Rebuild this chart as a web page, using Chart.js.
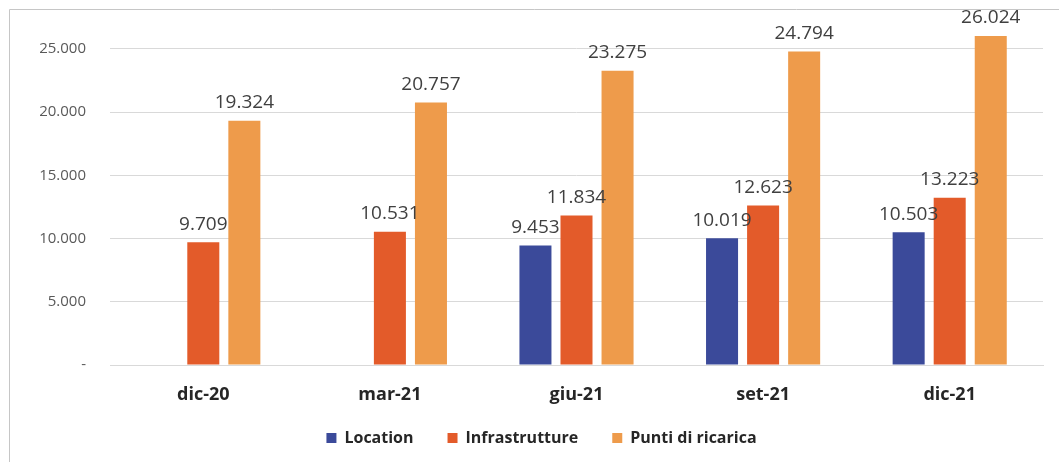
<!DOCTYPE html>
<html>
<head>
<meta charset="utf-8">
<script src="https://cdn.jsdelivr.net/npm/chart.js@4/dist/chart.umd.min.js"></script>
<style>
  html, body { margin: 0; padding: 0; background: #ffffff; }
  #wrap { position: relative; width: 1059px; height: 462px; }
</style>
</head>
<body>
<div id="wrap"><canvas id="chart" width="1059" height="462"></canvas></div>
<script>
// Quarterly figures for the charging network
const categories = ['dic-20', 'mar-21', 'giu-21', 'set-21', 'dic-21'];
const location_ = [null, null, 9453, 10019, 10503];
const infrastrutture = [9709, 10531, 11834, 12623, 13223];
const puntiRicarica = [19324, 20757, 23275, 24794, 26024];
const seriesNames = ['Location', 'Infrastrutture', 'Punti di ricarica'];
const yTickValues = [0, 5000, 10000, 15000, 20000, 25000];
const yTickLabels = ['-', '5.000', '10.000', '15.000', '20.000', '25.000'];

const FONT = '"Open Sans", "Noto Sans", sans-serif';

function fmt(v) {
  return String(v).replace(/\B(?=(\d{3})+(?!\d))/g, '.');
}

// Value labels above each bar
const valueLabels = {
  id: 'valueLabels',
  afterDatasetsDraw(chart) {
    const ctx = chart.ctx;
    ctx.save();
    ctx.font = '19px ' + FONT;
    ctx.fillStyle = '#404040';
    ctx.textAlign = 'center';
    ctx.textBaseline = 'middle';
    chart.data.datasets.forEach((ds, i) => {
      const meta = chart.getDatasetMeta(i);
      meta.data.forEach((bar, j) => {
        const v = ds.data[j];
        if (v === null || v === undefined) return;
        ctx.fillText(fmt(v), bar.x, bar.y - 18);
      });
    });
    ctx.restore();
  }
};

// Thin frame along the top and left edges
const frame = {
  id: 'frame',
  afterDraw(chart) {
    const ctx = chart.ctx;
    ctx.save();
    ctx.strokeStyle = '#c6c6c6';
    ctx.lineWidth = 1;
    ctx.beginPath();
    ctx.moveTo(9.5, chart.height);
    ctx.lineTo(9.5, 9.5);
    ctx.lineTo(chart.width, 9.5);
    ctx.stroke();
    ctx.restore();
  }
};

new Chart(document.getElementById('chart'), {
  type: 'bar',
  data: {
    labels: categories,
    datasets: [
      { label: seriesNames[0], data: location_, backgroundColor: '#3B4A9A' },
      { label: seriesNames[1], data: infrastrutture, backgroundColor: '#E35B2A' },
      { label: seriesNames[2], data: puntiRicarica, backgroundColor: '#EE9B4B' }
    ]
  },
  options: {
    responsive: false,
    animation: false,
    datasets: { bar: { categoryPercentage: 0.66, barPercentage: 0.78 } },
    layout: { padding: { top: 0, left: 40, right: 16, bottom: 6 } },
    plugins: {
      tooltip: { enabled: false },
      legend: {
        position: 'bottom',
        labels: {
          font: { family: FONT, size: 16, weight: 'bold' },
          color: '#262626',
          boxWidth: 10,
          boxHeight: 10,
          padding: 34
        }
      }
    },
    scales: {
      x: {
        grid: { display: false },
        border: { display: true, color: '#d9d9d9' },
        ticks: {
          font: { family: FONT, size: 18, weight: 'bold' },
          color: '#262626',
          padding: 11
        },
        afterFit(scale) {
          scale.height = 31;
          // let the category labels run past the short axis box
          scale._computeLabelArea = () => undefined;
        }
      },
      y: {
        min: 0,
        max: 26262,
        afterBuildTicks(scale) {
          scale.ticks = yTickValues.map(v => ({ value: v }));
        },
        grid: { color: '#d9d9d9', drawTicks: false },
        border: { display: false },
        ticks: {
          font: { family: FONT, size: 15 },
          color: '#595959',
          padding: 24,
          callback(value) {
            const k = yTickValues.indexOf(value);
            return k >= 0 ? yTickLabels[k] : '';
          }
        },
        afterFit(scale) { scale.width = 70; }
      }
    }
  },
  plugins: [valueLabels, frame]
});
</script>
</body>
</html>
